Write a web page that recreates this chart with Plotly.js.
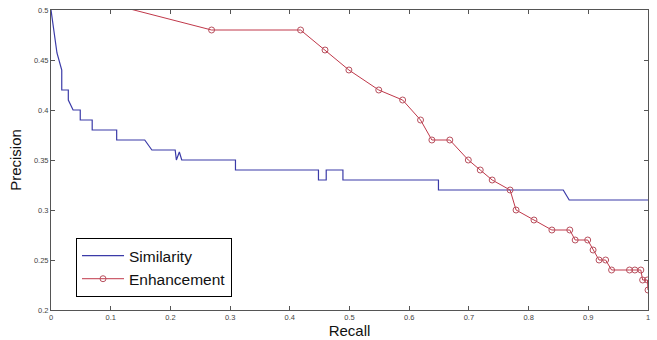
<!DOCTYPE html>
<html>
<head>
<meta charset="utf-8">
<script src="https://cdn.plot.ly/plotly-3.0.1.min.js"></script>
<style>html,body{margin:0;padding:0;background:#fff;}#chart{width:657px;height:340px;}</style>
</head>
<body>
<div id="chart"></div>
<script>
// Similarity (step curve vertices)
var simRecall = [0, 0.005, 0.01, 0.018, 0.018, 0.029, 0.029, 0.037, 0.049, 0.049, 0.069, 0.069, 0.11, 0.11, 0.157, 0.169, 0.208, 0.21, 0.215, 0.219, 0.309, 0.309, 0.448, 0.448, 0.461, 0.461, 0.489, 0.489, 0.649, 0.649, 0.858, 0.868, 1.0];
var simPrecision = [0.5, 0.48, 0.457, 0.44, 0.42, 0.42, 0.41, 0.40, 0.40, 0.39, 0.39, 0.38, 0.38, 0.37, 0.37, 0.36, 0.36, 0.35, 0.358, 0.35, 0.35, 0.34, 0.34, 0.33, 0.33, 0.34, 0.34, 0.33, 0.33, 0.32, 0.32, 0.31, 0.31];
// Enhancement
var enhRecall = [0.10, 0.269, 0.418, 0.459, 0.499, 0.549, 0.589, 0.619, 0.638, 0.668, 0.699, 0.719, 0.739, 0.769, 0.779, 0.809, 0.839, 0.869, 0.878, 0.899, 0.908, 0.918, 0.929, 0.939, 0.969, 0.978, 0.988, 0.991, 0.999, 1.0];
var enhPrecision = [0.506, 0.48, 0.48, 0.46, 0.44, 0.42, 0.41, 0.39, 0.37, 0.37, 0.35, 0.34, 0.33, 0.32, 0.30, 0.29, 0.28, 0.28, 0.27, 0.27, 0.26, 0.25, 0.25, 0.24, 0.24, 0.24, 0.24, 0.23, 0.23, 0.22];
var xTicks = [0, 0.1, 0.2, 0.3, 0.4, 0.5, 0.6, 0.7, 0.8, 0.9, 1];
var xTickLabels = ['0', '0.1', '0.2', '0.3', '0.4', '0.5', '0.6', '0.7', '0.8', '0.9', '1'];
var yTicks = [0.2, 0.25, 0.3, 0.35, 0.4, 0.45, 0.5];
var yTickLabels = ['0.2', '0.25', '0.3', '0.35', '0.4', '0.45', '0.5'];

var traces = [
  {x: simRecall, y: simPrecision, name: 'Similarity', mode: 'lines', type: 'scatter',
   line: {color: '#3b3ba8', width: 1.2}},
  {x: enhRecall, y: enhPrecision, name: 'Enhancement', mode: 'lines+markers', type: 'scatter',
   line: {color: '#c0384a', width: 1},
   marker: {symbol: 'circle-open', size: 6, color: '#b8505e', line: {width: 1}}}
];
var axisCommon = {showline: true, linecolor: '#555', linewidth: 1, mirror: 'ticks', ticks: 'inside', ticklen: 4, tickcolor: '#555',
  showgrid: false, zeroline: false, tickfont: {family: 'Liberation Sans, Arial, sans-serif', size: 7.5, color: '#444'}};
var layout = {
  width: 657, height: 340,
  margin: {l: 51, r: 9, t: 10, b: 30},
  paper_bgcolor: '#fff', plot_bgcolor: '#fff',
  showlegend: true,
  font: {family: 'Liberation Sans, Arial, sans-serif', color: '#000'},
  xaxis: Object.assign({}, axisCommon, {range: [0, 1], tickvals: xTicks, ticktext: xTickLabels,
    title: {text: 'Recall', font: {size: 15, color: '#111'}, standoff: 4}}),
  yaxis: Object.assign({}, axisCommon, {range: [0.2, 0.5], tickvals: yTicks, ticktext: yTickLabels,
    title: {text: 'Precision', font: {size: 15, color: '#111'}, standoff: 8}}),
  legend: {x: 0.0419, y: 0.1417, xanchor: 'left', yanchor: 'middle', bgcolor: '#fff', bordercolor: '#000', borderwidth: 1,
    itemwidth: 42, font: {size: 15.5, color: '#111'}, tracegroupgap: 0}
};
Plotly.newPlot('chart', traces, layout, {displayModeBar: false, staticPlot: true});
</script>
</body>
</html>
